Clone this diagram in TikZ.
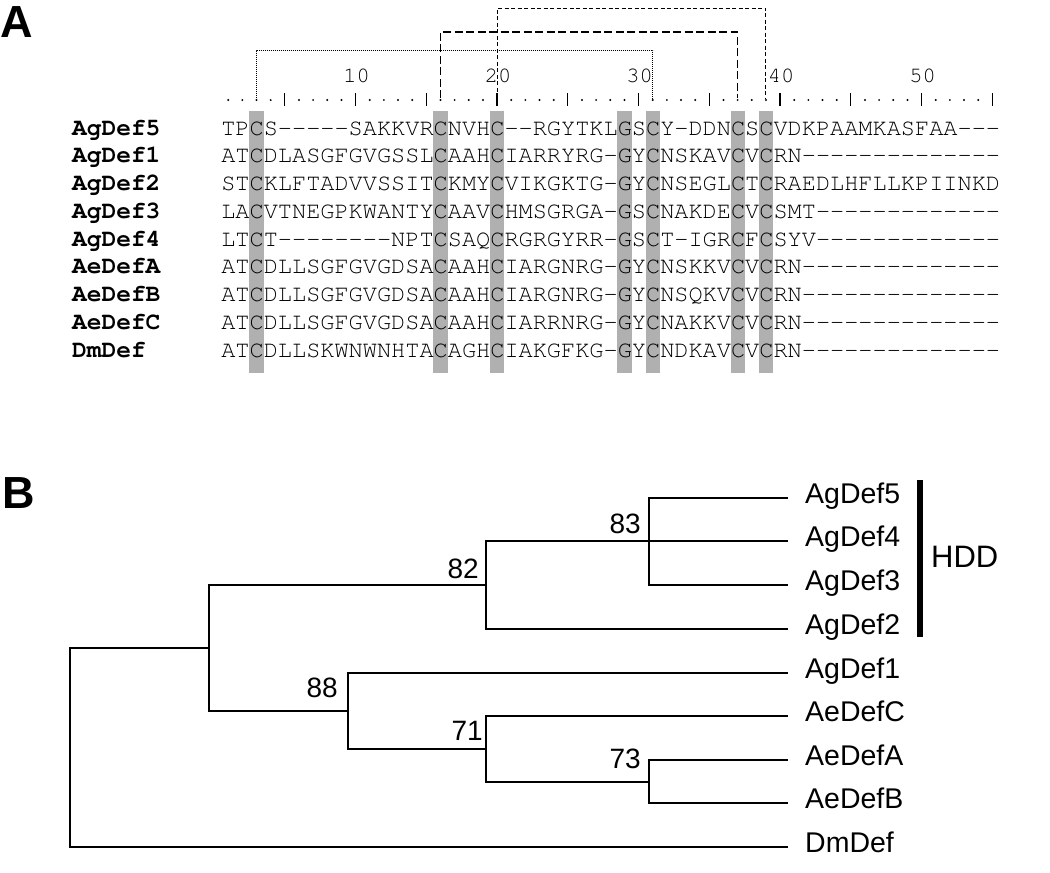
\documentclass[tikz,border=0pt]{standalone}
\usepackage[T1]{fontenc}
\usepackage{fontspec}
\setmainfont{Liberation Sans}
\usetikzlibrary{positioning}
\definecolor{cysgray}{RGB}{176,176,176}
\newcommand{\courier}{\fontencoding{T1}\fontfamily{pcr}}
\newcommand{\seqsize}{\fontsize{23.6}{28}\selectfont}
\newcommand{\namesize}{\fontsize{24.5}{28}\selectfont}
\newcommand{\rulersize}{\fontsize{22}{26}\selectfont}
\newcommand{\leafsize}{\fontsize{28.5}{34}\selectfont}
\newcommand{\bootsize}{\fontsize{28}{34}\selectfont}
\newcommand{\hddsize}{\fontsize{31}{37}\selectfont}
\newcommand{\panelsize}{\fontsize{45}{54}\selectfont}
\newcommand{\colone}{228.2}
\newcommand{\colw}{14.15}
\newcommand{\seqx}{221.1}
% keep gaps as single hyphens (no dash ligatures)
\ExplSyntaxOn
\NewDocumentCommand{\aln}{m}
  {
    \tl_set:Nn \l_tmpa_tl {#1}
    \tl_replace_all:Nnn \l_tmpa_tl {-} {-{}}
    \tl_use:N \l_tmpa_tl
  }
\ExplSyntaxOff

\begin{document}
\begin{tikzpicture}[x=1pt, y=-1pt,
    seq/.style={anchor=base west, inner sep=0pt, font=\courier\seqsize},
    seqname/.style={anchor=base west, inner sep=0pt, font=\courier\bfseries\namesize},
    cysband/.style={fill=cysgray},
    rulernum/.style={anchor=base, inner sep=0pt, font=\courier\rulersize},
    bondA/.style={line width=1pt, dash pattern=on 1.2pt off 0.8pt},
    bondB/.style={line width=1.1pt, dash pattern=on 8pt off 3.5pt},
    bondC/.style={line width=1pt, dash pattern=on 4pt off 2.5pt},
    branch/.style={line width=1.4pt},
    leaf/.style={anchor=west, inner xsep=17pt, inner ysep=0pt, text height=10pt, text depth=0pt, font=\leafsize},
    boot/.style={anchor=base east, inner sep=0pt, font=\bootsize},
    panel/.style={anchor=base west, inner sep=0pt, font=\panelsize\bfseries}]
    \useasboundingbox (0,0) rectangle (1050,873);

    % panel A: alignment
    \node[panel] (panA) at (0,37) {A};
    \foreach \cc in {3,16,20,29,31,37,39}
        \fill[cysband] ({\colone+(\cc-1)*\colw-7.1},111) rectangle ({\colone+(\cc-1)*\colw+7.1},373);

    \node[seqname] (nAg5) at (72,135) {AgDef5};
    \node[seqname] (nAg1) at (72,162.75) {AgDef1};
    \node[seqname] (nAg2) at (72,190.5) {AgDef2};
    \node[seqname] (nAg3) at (72,218.25) {AgDef3};
    \node[seqname] (nAg4) at (72,246) {AgDef4};
    \node[seqname] (nAeA) at (72,273.75) {AeDefA};
    \node[seqname] (nAeB) at (72,301.5) {AeDefB};
    \node[seqname] (nAeC) at (72,329.25) {AeDefC};
    \node[seqname] (nDm) at (72,357) {DmDef};

    \node[seq] (sAg5) at (\seqx,135) {\aln{TPCS-----SAKKVRCNVHC--RGYTKLGSCY-DDNCSCVDKPAAMKASFAA---}};
    \node[seq] (sAg1) at (\seqx,162.75) {\aln{ATCDLASGFGVGSSLCAAHCIARRYRG-GYCNSKAVCVCRN--------------}};
    \node[seq] (sAg2) at (\seqx,190.5) {\aln{STCKLFTADVVSSITCKMYCVIKGKTG-GYCNSEGLCTCRAEDLHFLLKPIINKD}};
    \node[seq] (sAg3) at (\seqx,218.25) {\aln{LACVTNEGPKWANTYCAAVCHMSGRGA-GSCNAKDECVCSMT-------------}};
    \node[seq] (sAg4) at (\seqx,246) {\aln{LTCT--------NPTCSAQCRGRGYRR-GSCT-IGRCFCSYV-------------}};
    \node[seq] (sAeA) at (\seqx,273.75) {\aln{ATCDLLSGFGVGDSACAAHCIARGNRG-GYCNSKKVCVCRN--------------}};
    \node[seq] (sAeB) at (\seqx,301.5) {\aln{ATCDLLSGFGVGDSACAAHCIARGNRG-GYCNSQKVCVCRN--------------}};
    \node[seq] (sAeC) at (\seqx,329.25) {\aln{ATCDLLSGFGVGDSACAAHCIARRNRG-GYCNAKKVCVCRN--------------}};
    \node[seq] (sDm) at (\seqx,357) {\aln{ATCDLLSKWNWNHTACAGHCIAKGFKG-GYCNDKAVCVCRN--------------}};

    % ruler
    \foreach \cc in {1,...,55} {
        \pgfmathtruncatemacro{\rem}{mod(\cc,5)}
        \ifnum\rem=0
            \draw[line width=1.2pt] ({\colone+(\cc-1)*\colw},93) -- ++(0,13);
        \else
            \fill ({\colone+(\cc-1)*\colw},100) circle (1.1pt);
        \fi
    }
    \foreach \cc in {10,20,...,50}
        \node[rulernum] (num\cc) at ({\colone+(\cc-1)*\colw+1},82) {\cc};

    % disulfide bridges
    \foreach \cc in {3,16,20,31,37,39}
        \coordinate (cys\cc) at ({\colone+(\cc-1)*\colw},98);
    \draw[bondA] (cys3) -- ++(0,-48) -| (cys31);
    \draw[bondB] (cys16) -- ++(0,-66) -| (cys37);
    \draw[bondC] (cys20) -- ++(0,-90) -| (cys39);

    % panel B: tree
    \node[panel] (panB) at (2,508) {B};
    \coordinate (root) at (70,748);
    \coordinate (nIn) at (209,648);
    \coordinate (n82) at (486,585);
    \coordinate (n83) at (649,541);
    \coordinate (n88) at (348,711);
    \coordinate (n71) at (486,749);
    \coordinate (n73) at (649,782);

    \node[leaf] (tAg5) at (788,498) {AgDef5};
    \node[leaf] (tAg4) at (788,541) {AgDef4};
    \node[leaf] (tAg3) at (788,585) {AgDef3};
    \node[leaf] (tAg2) at (788,629) {AgDef2};
    \node[leaf] (tAg1) at (788,673) {AgDef1};
    \node[leaf] (tAeC) at (788,716) {AeDefC};
    \node[leaf] (tAeA) at (788,760) {AeDefA};
    \node[leaf] (tAeB) at (788,803) {AeDefB};
    \node[leaf] (tDm) at (788,847) {DmDef};

    \draw[branch] (root) |- (nIn);
    \draw[branch] (root) |- (tDm);
    \draw[branch] (nIn) |- (n82);
    \draw[branch] (nIn) |- (n88);
    \draw[branch] (n82) |- (n83);
    \draw[branch] (n82) |- (tAg2);
    \draw[branch] (n83) |- (tAg5);
    \draw[branch] (n83) -- (tAg4);
    \draw[branch] (n83) |- (tAg3);
    \draw[branch] (n88) |- (tAg1);
    \draw[branch] (n88) |- (n71);
    \draw[branch] (n71) |- (tAeC);
    \draw[branch] (n71) |- (n73);
    \draw[branch] (n73) |- (tAeA);
    \draw[branch] (n73) |- (tAeB);

    \node[boot, xshift=-7pt, yshift=7pt] (b82) at (n82) {82};
    \node[boot, xshift=-8pt, yshift=8pt] (b83) at (n83) {83};
    \node[boot, xshift=-10pt, yshift=14pt] (b88) at (n88) {88};
    \node[boot, xshift=-3pt, yshift=9pt] (b71) at (n71) {71};
    \node[boot, xshift=-8pt, yshift=14pt] (b73) at (n73) {73};

    % HDD group
    \coordinate (hddtop) at (920,480);
    \coordinate (hddbot) at (920,637);
    \draw[line width=6pt] (hddtop) -- (hddbot);
    \node[anchor=west, inner sep=0pt, font=\hddsize] (hdd) at (931,557) {HDD};
\end{tikzpicture}
\end{document}
